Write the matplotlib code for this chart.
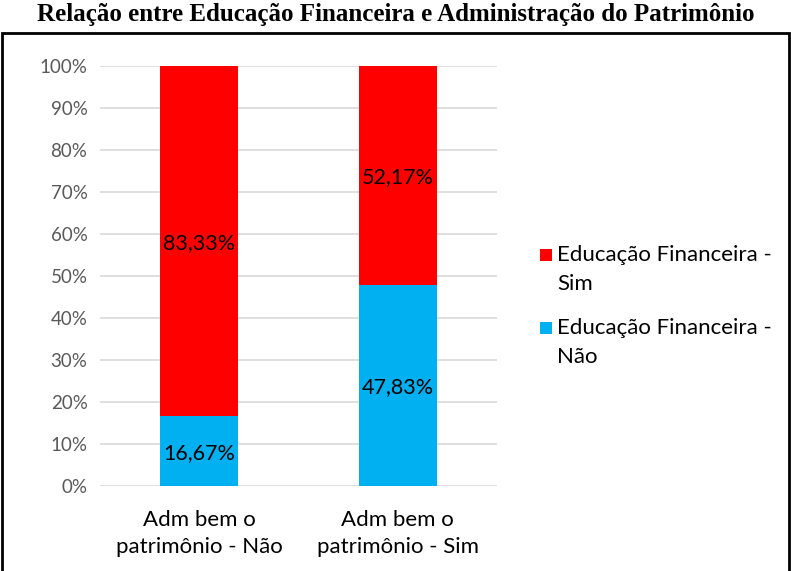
import matplotlib
matplotlib.use("Agg")
import matplotlib.pyplot as plt
from matplotlib.patches import Rectangle
import numpy as np

categories = ["Adm bem o\npatrimônio - Não", "Adm bem o\npatrimônio - Sim"]
edu_nao = [16.67, 47.83]
edu_sim = [83.33, 52.17]
series_names = ["Educação Financeira -\nSim", "Educação Financeira -\nNão"]
series_colors = ["#FF0000", "#00B0F0"]
yticks = list(range(0, 101, 10))

plt.rcParams['font.family'] = ['Lato', 'DejaVu Sans']
FS = 16

fig = plt.figure(figsize=(7.91, 5.71), dpi=100)
ax = fig.add_axes([100/791, 1-486/571, 397/791, 420/571])

x = np.arange(len(categories))
w = 0.393
b1 = ax.bar(x, edu_nao, w, color=series_colors[1], zorder=3)
b2 = ax.bar(x, edu_sim, w, bottom=edu_nao, color=series_colors[0], zorder=3)

for i in range(len(categories)):
    ax.text(x[i], edu_nao[i]/2, f"{edu_nao[i]:.2f}%".replace('.', ','), ha='center', va='center_baseline', fontsize=15.5, color='black', zorder=4)
    ax.text(x[i], edu_nao[i] + edu_sim[i]/2, f"{edu_sim[i]:.2f}%".replace('.', ','), ha='center', va='center_baseline', fontsize=15.5, color='black', zorder=4)

ax.set_xlim(-0.5, 1.5)
ax.set_ylim(0, 100)
ax.set_yticks(yticks)
ax.set_yticklabels([f"{t}%" for t in yticks], fontsize=13.5, color="#595959")
ax.set_xticks(x)
ax.set_xticklabels(categories, fontsize=FS, color="black", linespacing=1.45)
ax.tick_params(axis='both', length=0)
ax.tick_params(axis='y', pad=9)
ax.tick_params(axis='x', pad=17)
ax.grid(axis='y', color="#D9D9D9", linewidth=1.2, zorder=0)
for s in ax.spines.values():
    s.set_visible(False)

# legend (drawn manually so the marker aligns with the first text line)
leg_y = [255, 328]
for name, col, yy in zip(series_names, series_colors, leg_y):
    fig.add_artist(Rectangle((540/791, 1-(yy+6)/571), 12/791, 12/571, transform=fig.transFigure,
                             facecolor=col, edgecolor='none'))
    for k, line in enumerate(name.split("\n")):
        fig.text(557/791, 1-(yy + 29*k)/571, line, ha='left', va='center', fontsize=FS, color='black')

fig.text(0.5, 1-14/571, "Relação entre Educação Financeira e Administração do Patrimônio",
         ha='center', va='center', fontsize=18, fontweight='bold', family='Liberation Serif')

fig.add_artist(Rectangle((2/791, -0.01), 787/791, 1-33/571+0.01, transform=fig.transFigure,
                         fill=False, edgecolor='black', linewidth=2))

fig.savefig("out.png", dpi=100)
